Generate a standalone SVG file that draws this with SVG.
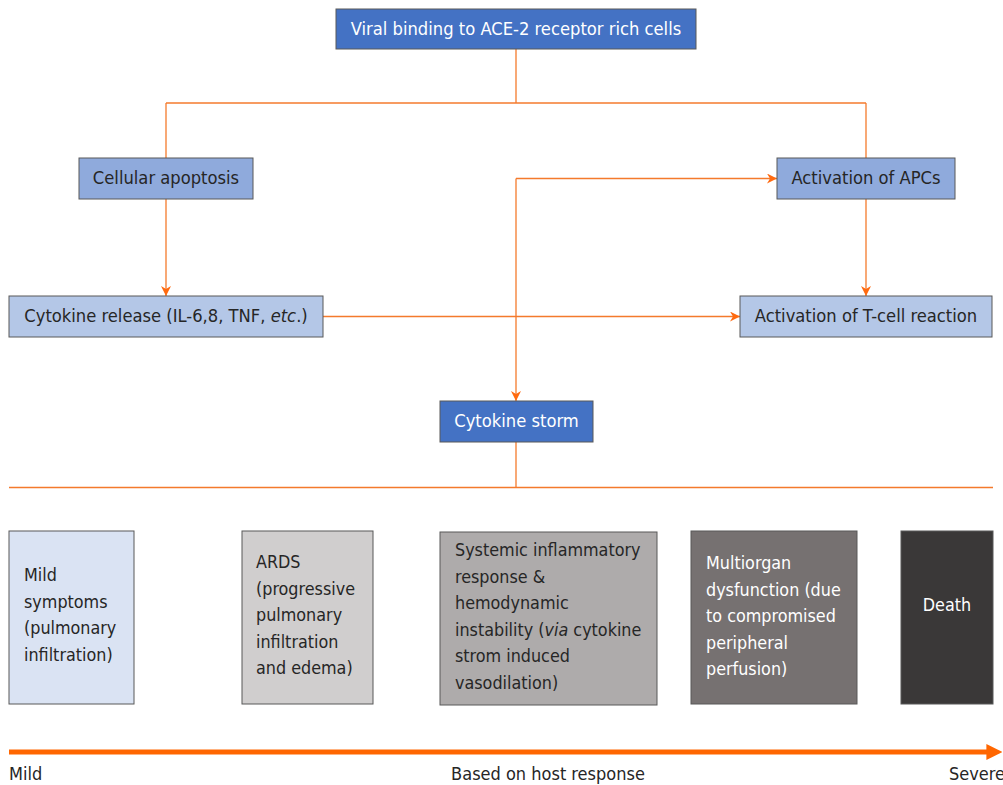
<svg xmlns="http://www.w3.org/2000/svg" width="1003" height="785" viewBox="0 0 1003 785">
<style>
text{font-family:"DejaVu Sans Condensed","DejaVu Sans",sans-serif;font-size:18.2px;fill:#262626}
.w{fill:#ffffff}
.c{text-anchor:middle}
.b{font-size:17.8px}
.box{stroke:#595959;stroke-width:1}
.con{fill:none;stroke:#F47A2C;stroke-width:1.3}
.lbl{font-size:18px}
</style>
<defs>
<marker id="ah" viewBox="0 0 10 10" refX="10" refY="5" markerWidth="10" markerHeight="10" markerUnits="userSpaceOnUse" orient="auto">
<path d="M0,0 L10,5 L0,10 L3,5 Z" fill="#FF6A10"/>
</marker>
<marker id="big" viewBox="0 0 10 10" refX="6" refY="5" markerWidth="16" markerHeight="16" markerUnits="userSpaceOnUse" orient="auto">
<path d="M0,0 L10,5 L0,10 Z" fill="#FF6600"/>
</marker>
</defs>
<g id="connectors">
<path class="con" d="M516,49 V103"/>
<path class="con" d="M166,103 H866"/>
<path class="con" d="M166,103 V158"/>
<path class="con" d="M866,103 V158"/>
<path class="con" d="M166,199 V296" marker-end="url(#ah)"/>
<path class="con" d="M866,199 V296" marker-end="url(#ah)"/>
<path class="con" d="M323,316.5 H740" marker-end="url(#ah)"/>
<path class="con" d="M516,178.5 H777" marker-end="url(#ah)"/>
<path class="con" d="M516,178.5 V401" marker-end="url(#ah)"/>
<path class="con" d="M516,442 V487"/>
<path class="con" d="M9,487.5 H993"/>
</g>
<g id="n-viral">
<rect class="box" x="336" y="9" width="360" height="40" fill="#4472C4"/>
<text class="w c" x="516" y="35">Viral binding to ACE-2 receptor rich cells</text>
</g>
<g id="n-apoptosis">
<rect class="box" x="79" y="158" width="174" height="41" fill="#8FAADC"/>
<text class="c" x="166" y="184">Cellular apoptosis</text>
</g>
<g id="n-apc">
<rect class="box" x="777" y="158" width="178" height="41" fill="#8FAADC"/>
<text class="c" x="866" y="184">Activation of APCs</text>
</g>
<g id="n-cytokine-release">
<rect class="box" x="9" y="296" width="314" height="41" fill="#B4C7E7"/>
<text class="c" x="166" y="322">Cytokine release (IL-6,8, TNF, <tspan font-style="italic">etc</tspan>.)</text>
</g>
<g id="n-tcell">
<rect class="box" x="740" y="296" width="252" height="41" fill="#B4C7E7"/>
<text class="c" x="866" y="322">Activation of T-cell reaction</text>
</g>
<g id="n-storm">
<rect class="box" x="440" y="401" width="153" height="41" fill="#4472C4"/>
<text class="w c" x="516.5" y="427">Cytokine storm</text>
</g>
<g id="n-mild" class="b">
<rect class="box" x="9" y="531" width="125" height="173" fill="#DAE3F3"/>
<text class="b" x="24" y="581">Mild</text>
<text class="b" x="24" y="608">symptoms</text>
<text class="b" x="24" y="634">(pulmonary</text>
<text class="b" x="24" y="661">infiltration)</text>
</g>
<g id="n-ards">
<rect class="box" x="242" y="531" width="131" height="173" fill="#D0CECE"/>
<text class="b" x="256" y="568">ARDS</text>
<text class="b" x="256" y="595">(progressive</text>
<text class="b" x="256" y="621">pulmonary</text>
<text class="b" x="256" y="648">infiltration</text>
<text class="b" x="256" y="674">and edema)</text>
</g>
<g id="n-systemic">
<rect class="box" x="440" y="532" width="217" height="173" fill="#AEABAB"/>
<text class="b" x="455" y="556">Systemic inflammatory</text>
<text class="b" x="455" y="583">response &amp;</text>
<text class="b" x="455" y="609">hemodynamic</text>
<text class="b" x="455" y="636">instability (<tspan font-style="italic">via</tspan> cytokine</text>
<text class="b" x="455" y="662">strom induced</text>
<text class="b" x="455" y="689">vasodilation)</text>
</g>
<g id="n-multiorgan">
<rect class="box" x="691" y="531" width="166" height="173" fill="#767171"/>
<text class="w b" x="706" y="569">Multiorgan</text>
<text class="w b" x="706" y="596">dysfunction (due</text>
<text class="w b" x="706" y="622">to compromised</text>
<text class="w b" x="706" y="649">peripheral</text>
<text class="w b" x="706" y="675">perfusion)</text>
</g>
<g id="n-death">
<rect class="box" x="901" y="531" width="92" height="173" fill="#3A3838"/>
<text class="w c b" x="947" y="611">Death</text>
</g>
<g id="scale">
<path d="M9,752 H996" stroke="#FF6600" stroke-width="5" fill="none" marker-end="url(#big)"/>
<text class="lbl" x="9" y="780">Mild</text>
<text class="lbl c" x="548" y="780">Based on host response</text>
<text class="lbl" x="949" y="780">Severe</text>
</g>
</svg>
